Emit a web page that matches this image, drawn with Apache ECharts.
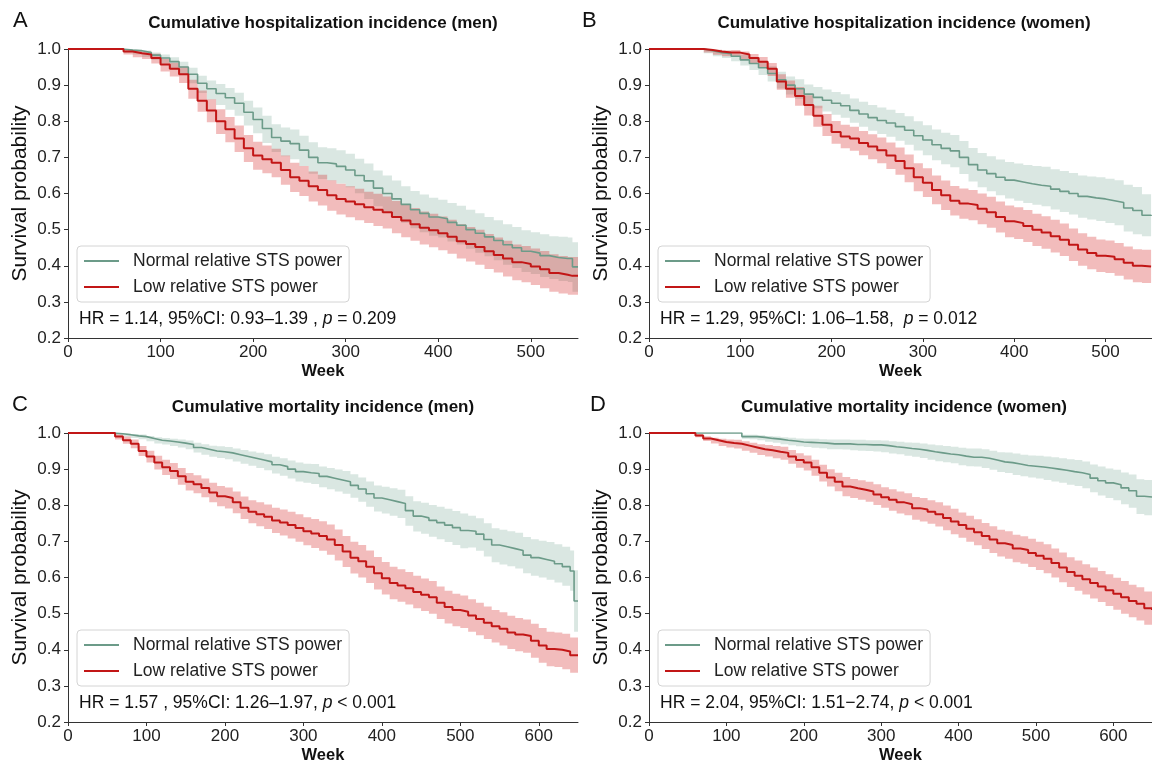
<!DOCTYPE html>
<html>
<head>
<meta charset="utf-8">
<title>Cumulative incidence by relative STS power</title>
<script src="https://cdn.jsdelivr.net/npm/echarts@6/dist/echarts.min.js"></script>
<style>
html, body { margin: 0; padding: 0; background: #fff; }
#chart { width: 1152px; height: 765px; }
</style>
</head>
<body>
<div id="chart"></div>
<script>
// tick labels
var xTicksHosp = [0, 100, 200, 300, 400, 500];
var xTicksMort = [0, 100, 200, 300, 400, 500, 600];
var yTicks = [0.2, 0.3, 0.4, 0.5, 0.6, 0.7, 0.8, 0.9, 1.0];

// A - hospitalization, men
var aWeeks = [0, 50,
  60, 70, 80, 90, 100,
  110, 120, 130, 140, 150, 160, 170, 180, 190, 200,
  210, 220, 230, 240, 250, 260, 270, 280, 290, 300,
  310, 320, 330, 340, 350, 360, 370, 380, 390, 400,
  410, 420, 430, 440, 450, 460, 470, 480, 490, 500,
  510, 520, 530, 540,
  545, 551];
var aNormal = [1, 1,
  0.997, 0.995, 0.99, 0.983, 0.975,
  0.965, 0.95, 0.93, 0.905, 0.89, 0.877, 0.865, 0.85, 0.825, 0.805,
  0.78, 0.755, 0.745, 0.738, 0.72, 0.7, 0.685, 0.682, 0.675, 0.665,
  0.65, 0.635, 0.615, 0.6, 0.585, 0.57, 0.555, 0.545, 0.535, 0.53,
  0.52, 0.512, 0.5, 0.49, 0.48, 0.47, 0.458, 0.45, 0.44, 0.435,
  0.428, 0.423, 0.42, 0.42,
  0.397, 0.397];
var aNormalLo = [1, 1,
  0.99, 0.985, 0.978, 0.97, 0.96,
  0.947, 0.93, 0.905, 0.878, 0.86, 0.845, 0.832, 0.815, 0.788, 0.767,
  0.74, 0.715, 0.703, 0.695, 0.676, 0.655, 0.64, 0.636, 0.628, 0.617,
  0.601, 0.585, 0.565, 0.55, 0.535, 0.519, 0.504, 0.493, 0.483, 0.478,
  0.467, 0.459, 0.447, 0.436, 0.426, 0.415, 0.403, 0.394, 0.383, 0.377,
  0.369, 0.363, 0.358, 0.355,
  0.328, 0.328];
var aNormalHi = [1, 1,
  1, 0.999, 0.996, 0.99, 0.985,
  0.977, 0.965, 0.948, 0.926, 0.913, 0.903, 0.892, 0.879, 0.857, 0.838,
  0.815, 0.792, 0.783, 0.777, 0.76, 0.742, 0.728, 0.725, 0.72, 0.71,
  0.696, 0.683, 0.664, 0.65, 0.636, 0.62, 0.607, 0.597, 0.588, 0.583,
  0.574, 0.566, 0.555, 0.545, 0.535, 0.526, 0.515, 0.507, 0.498, 0.493,
  0.487, 0.482, 0.48, 0.478,
  0.465, 0.465];
var aLow = [1, 1,
  0.993, 0.988, 0.985, 0.975, 0.957,
  0.945, 0.93, 0.89, 0.857, 0.83, 0.8, 0.778, 0.752, 0.725, 0.705,
  0.695, 0.685, 0.665, 0.645, 0.635, 0.62, 0.61, 0.595, 0.585, 0.578,
  0.57, 0.562, 0.555, 0.548, 0.535, 0.525, 0.515, 0.505, 0.498, 0.49,
  0.48, 0.468, 0.46, 0.452, 0.44, 0.43, 0.42, 0.41, 0.405, 0.398,
  0.39, 0.38, 0.375, 0.372,
  0.372, 0.372];
var aLowLo = [1, 1,
  0.985, 0.977, 0.972, 0.96, 0.938,
  0.924, 0.906, 0.862, 0.826, 0.797, 0.765, 0.742, 0.715, 0.687, 0.666,
  0.656, 0.645, 0.624, 0.604, 0.593, 0.578, 0.567, 0.552, 0.542, 0.534,
  0.526, 0.518, 0.51, 0.503, 0.49, 0.479, 0.469, 0.459, 0.451, 0.443,
  0.433, 0.42, 0.412, 0.403, 0.391, 0.381, 0.37, 0.36, 0.354, 0.347,
  0.338, 0.328, 0.323, 0.32,
  0.32, 0.32];
var aLowHi = [1, 1,
  0.998, 0.995, 0.993, 0.987, 0.972,
  0.962, 0.951, 0.915, 0.885, 0.861, 0.833, 0.812, 0.788, 0.762, 0.743,
  0.733, 0.724, 0.705, 0.685, 0.676, 0.661, 0.652, 0.637, 0.627, 0.62,
  0.613, 0.605, 0.599, 0.592, 0.579, 0.57, 0.56, 0.55, 0.544, 0.536,
  0.527, 0.515, 0.507, 0.5, 0.488, 0.478, 0.469, 0.459, 0.455, 0.448,
  0.441, 0.432, 0.427, 0.424,
  0.424, 0.424];

// B - hospitalization, women
var bWeeks = [0, 50,
  60, 70, 80, 90, 100,
  110, 120, 130, 140, 150, 160, 170, 180, 190, 200,
  210, 220, 230, 240, 250, 260, 270, 280, 290, 300,
  310, 320, 330, 340, 350, 360, 370, 380, 390, 400,
  410, 420, 430, 440, 450, 460, 470, 480, 490, 500,
  510, 520, 530, 540, 550];
var bNormal = [1, 1,
  0.995, 0.99, 0.987, 0.98, 0.97,
  0.96, 0.948, 0.932, 0.915, 0.9, 0.89, 0.875, 0.866, 0.858, 0.85,
  0.843, 0.83, 0.82, 0.81, 0.802, 0.795, 0.785, 0.775, 0.76, 0.748,
  0.735, 0.725, 0.718, 0.7, 0.68, 0.665, 0.655, 0.645, 0.637, 0.632,
  0.627, 0.623, 0.62, 0.612, 0.606, 0.6, 0.592, 0.588, 0.585, 0.58,
  0.575, 0.56, 0.553, 0.54, 0.538];
var bNormalLo = [1, 1,
  0.988, 0.98, 0.975, 0.966, 0.954,
  0.942, 0.928, 0.91, 0.891, 0.874, 0.862, 0.846, 0.836, 0.827, 0.818,
  0.81, 0.796, 0.785, 0.774, 0.765, 0.757, 0.746, 0.735, 0.719, 0.706,
  0.692, 0.681, 0.673, 0.654, 0.633, 0.617, 0.606, 0.595, 0.586, 0.58,
  0.574, 0.569, 0.565, 0.556, 0.549, 0.542, 0.533, 0.528, 0.524, 0.518,
  0.512, 0.495, 0.487, 0.482, 0.48];
var bNormalHi = [1, 1,
  0.999, 0.997, 0.995, 0.991, 0.984,
  0.976, 0.966, 0.952, 0.937, 0.924, 0.916, 0.902, 0.895, 0.888, 0.881,
  0.875, 0.863, 0.854, 0.845, 0.838, 0.832, 0.823, 0.814, 0.8, 0.789,
  0.777, 0.768, 0.762, 0.745, 0.726, 0.712, 0.703, 0.694, 0.687, 0.683,
  0.679, 0.676, 0.674, 0.667, 0.662, 0.657, 0.65, 0.647, 0.645, 0.641,
  0.637, 0.624, 0.618, 0.598, 0.596];
var bLow = [1, 1,
  0.997, 0.993, 0.99, 0.99, 0.985,
  0.975, 0.965, 0.945, 0.91, 0.89, 0.87, 0.845, 0.815, 0.79, 0.77,
  0.758, 0.752, 0.74, 0.73, 0.72, 0.705, 0.69, 0.67, 0.645, 0.63,
  0.61, 0.595, 0.58, 0.572, 0.568, 0.558, 0.548, 0.535, 0.523, 0.518,
  0.51, 0.5, 0.492, 0.482, 0.472, 0.458, 0.445, 0.435, 0.428, 0.425,
  0.418, 0.408, 0.4, 0.398, 0.398];
var bLowLo = [1, 1,
  0.99, 0.984, 0.98, 0.979, 0.972,
  0.96, 0.948, 0.925, 0.887, 0.865, 0.843, 0.816, 0.785, 0.759, 0.738,
  0.725, 0.718, 0.706, 0.695, 0.684, 0.668, 0.652, 0.631, 0.606, 0.59,
  0.57, 0.554, 0.539, 0.53, 0.526, 0.515, 0.505, 0.492, 0.479, 0.474,
  0.466, 0.455, 0.447, 0.437, 0.427, 0.413, 0.4, 0.39, 0.383, 0.38,
  0.372, 0.362, 0.354, 0.352, 0.352];
var bLowHi = [1, 1,
  1, 0.998, 0.996, 0.997, 0.993,
  0.986, 0.978, 0.961, 0.93, 0.913, 0.895, 0.872, 0.843, 0.82, 0.801,
  0.79, 0.785, 0.773, 0.764, 0.755, 0.741, 0.727, 0.708, 0.684, 0.67,
  0.65, 0.636, 0.621, 0.614, 0.61, 0.6, 0.591, 0.578, 0.567, 0.562,
  0.554, 0.544, 0.537, 0.527, 0.517, 0.503, 0.49, 0.48, 0.473, 0.47,
  0.463, 0.453, 0.446, 0.444, 0.444];

// C - mortality, men
var cWeeks = [0, 50,
  60, 70, 80, 90, 100,
  110, 120, 130, 140, 150, 160, 170, 180, 190, 200,
  210, 220, 230, 240, 250, 260, 270, 280, 290, 300,
  310, 320, 330, 340, 350, 360, 370, 380, 390, 400,
  410, 420, 430, 440, 450, 460, 470, 480, 490, 500,
  510, 520, 530, 540, 550, 560, 570, 580, 590, 600,
  610, 620, 630, 640,
  645, 650];
var cNormal = [1, 1,
  0.998, 0.995, 0.992, 0.99, 0.985,
  0.98, 0.978, 0.975, 0.972, 0.968, 0.96, 0.955, 0.95, 0.948, 0.945,
  0.94, 0.935, 0.93, 0.925, 0.92, 0.912, 0.907, 0.9, 0.893, 0.89,
  0.888, 0.88, 0.875, 0.87, 0.865, 0.855, 0.845, 0.832, 0.82, 0.815,
  0.81, 0.805, 0.785, 0.77, 0.765, 0.758, 0.752, 0.745, 0.738, 0.73,
  0.728, 0.72, 0.705, 0.69, 0.685, 0.68, 0.675, 0.662, 0.655, 0.65,
  0.645, 0.638, 0.63, 0.618,
  0.535, 0.535];
var cNormalLo = [1, 1,
  0.994, 0.99, 0.986, 0.983, 0.977,
  0.971, 0.968, 0.964, 0.96, 0.955, 0.946, 0.94, 0.934, 0.931, 0.927,
  0.921, 0.915, 0.909, 0.903, 0.897, 0.888, 0.882, 0.874, 0.866, 0.862,
  0.859, 0.85, 0.844, 0.838, 0.832, 0.821, 0.81, 0.796, 0.783, 0.777,
  0.771, 0.765, 0.743, 0.727, 0.721, 0.713, 0.706, 0.698, 0.69, 0.681,
  0.683, 0.674, 0.658, 0.642, 0.636, 0.631, 0.625, 0.612, 0.605, 0.6,
  0.594, 0.586, 0.577, 0.563,
  0.45, 0.45];
var cNormalHi = [1, 1,
  1, 0.999, 0.997, 0.996, 0.992,
  0.988, 0.986, 0.984, 0.982, 0.979, 0.973, 0.969, 0.965, 0.963, 0.961,
  0.957, 0.953, 0.949, 0.945, 0.941, 0.934, 0.93, 0.924, 0.918, 0.915,
  0.914, 0.907, 0.903, 0.899, 0.895, 0.886, 0.877, 0.866, 0.855, 0.851,
  0.847, 0.843, 0.825, 0.811, 0.807, 0.801, 0.796, 0.79, 0.784, 0.777,
  0.771, 0.764, 0.75, 0.736, 0.732, 0.728, 0.724, 0.712, 0.706, 0.702,
  0.698, 0.692, 0.685, 0.675,
  0.62, 0.62];
var cLow = [1, 1,
  0.99, 0.98, 0.97, 0.95, 0.935,
  0.918, 0.905, 0.895, 0.88, 0.865, 0.858, 0.848, 0.835, 0.825, 0.82,
  0.808, 0.793, 0.782, 0.775, 0.768, 0.758, 0.752, 0.745, 0.737, 0.728,
  0.722, 0.715, 0.705, 0.69, 0.672, 0.655, 0.645, 0.63, 0.612, 0.598,
  0.585, 0.578, 0.57, 0.56, 0.552, 0.545, 0.53, 0.518, 0.51, 0.505,
  0.495, 0.485, 0.475, 0.465, 0.458, 0.448, 0.442, 0.438, 0.425, 0.412,
  0.402, 0.4, 0.395, 0.385,
  0.385, 0.385];
var cLowLo = [1, 1,
  0.982, 0.97, 0.958, 0.936, 0.918,
  0.899, 0.884, 0.873, 0.857, 0.841, 0.833, 0.822, 0.808, 0.797, 0.791,
  0.778, 0.762, 0.75, 0.742, 0.734, 0.723, 0.716, 0.708, 0.699, 0.689,
  0.682, 0.674, 0.663, 0.647, 0.629, 0.611, 0.6, 0.585, 0.567, 0.553,
  0.54, 0.533, 0.525, 0.515, 0.507, 0.5, 0.485, 0.473, 0.465, 0.46,
  0.45, 0.44, 0.43, 0.42, 0.412, 0.402, 0.396, 0.392, 0.378, 0.364,
  0.354, 0.352, 0.346, 0.336,
  0.336, 0.336];
var cLowHi = [1, 1,
  0.996, 0.99, 0.982, 0.964, 0.951,
  0.937, 0.926, 0.917, 0.903, 0.889, 0.883, 0.874, 0.862, 0.853, 0.849,
  0.838, 0.824, 0.814, 0.808, 0.802, 0.793, 0.788, 0.782, 0.775, 0.767,
  0.762, 0.756, 0.747, 0.733, 0.715, 0.699, 0.69, 0.675, 0.657, 0.643,
  0.63, 0.623, 0.615, 0.605, 0.597, 0.59, 0.575, 0.563, 0.555, 0.55,
  0.54, 0.53, 0.52, 0.51, 0.504, 0.494, 0.488, 0.484, 0.472, 0.46,
  0.45, 0.448, 0.444, 0.434,
  0.434, 0.434];

// D - mortality, women
var dWeeks = [0, 50,
  60, 70, 80, 90, 100,
  110, 120, 130, 140, 150, 160, 170, 180, 190, 200,
  210, 220, 230, 240, 250, 260, 270, 280, 290, 300,
  310, 320, 330, 340, 350, 360, 370, 380, 390, 400,
  410, 420, 430, 440, 450, 460, 470, 480, 490, 500,
  510, 520, 530, 540, 550, 560, 570, 580, 590, 600,
  610, 620, 630, 640,
  650];
var dNormal = [1, 1,
  1, 1, 1, 1, 1,
  1, 0.99, 0.99, 0.988, 0.985, 0.983, 0.98, 0.978, 0.975, 0.974,
  0.973, 0.972, 0.97, 0.97, 0.97, 0.968, 0.968, 0.967, 0.967, 0.965,
  0.962, 0.96, 0.957, 0.955, 0.952, 0.948, 0.945, 0.942, 0.94, 0.936,
  0.933, 0.933, 0.93, 0.925, 0.92, 0.918, 0.914, 0.91, 0.908, 0.906,
  0.903, 0.9, 0.897, 0.893, 0.89, 0.885, 0.875, 0.868, 0.862, 0.857,
  0.848, 0.84, 0.825, 0.823,
  0.823];
var dNormalLo = [1, 1,
  1, 1, 1, 1, 1,
  1, 0.984, 0.983, 0.98, 0.976, 0.973, 0.969, 0.966, 0.963, 0.961,
  0.959, 0.958, 0.955, 0.955, 0.954, 0.952, 0.951, 0.95, 0.949, 0.947,
  0.943, 0.941, 0.937, 0.934, 0.931, 0.926, 0.922, 0.919, 0.916, 0.911,
  0.908, 0.907, 0.903, 0.898, 0.892, 0.889, 0.884, 0.88, 0.877, 0.874,
  0.87, 0.866, 0.862, 0.857, 0.853, 0.847, 0.836, 0.827, 0.82, 0.814,
  0.803, 0.793, 0.776, 0.772,
  0.772];
var dNormalHi = [1, 1,
  1, 1, 1, 1, 1,
  1, 0.995, 0.995, 0.994, 0.992, 0.99, 0.988, 0.987, 0.985, 0.984,
  0.984, 0.983, 0.982, 0.982, 0.982, 0.981, 0.981, 0.98, 0.98, 0.979,
  0.977, 0.976, 0.974, 0.973, 0.971, 0.968, 0.966, 0.964, 0.962, 0.959,
  0.957, 0.957, 0.955, 0.951, 0.947, 0.946, 0.943, 0.94, 0.938, 0.937,
  0.935, 0.933, 0.93, 0.927, 0.925, 0.921, 0.913, 0.907, 0.902, 0.898,
  0.891, 0.885, 0.872, 0.87,
  0.87];
var dLow = [1, 1,
  0.993, 0.985, 0.98, 0.975, 0.972,
  0.97, 0.965, 0.96, 0.955, 0.952, 0.948, 0.945, 0.935, 0.925, 0.918,
  0.905, 0.89, 0.877, 0.865, 0.852, 0.847, 0.843, 0.838, 0.83, 0.822,
  0.815, 0.808, 0.803, 0.792, 0.788, 0.782, 0.775, 0.765, 0.755, 0.745,
  0.735, 0.725, 0.715, 0.705, 0.695, 0.69, 0.68, 0.676, 0.668, 0.66,
  0.652, 0.64, 0.628, 0.615, 0.605, 0.595, 0.585, 0.575, 0.565, 0.555,
  0.545, 0.535, 0.527, 0.515,
  0.51];
var dLowLo = [1, 1,
  0.988, 0.978, 0.971, 0.964, 0.96,
  0.957, 0.951, 0.945, 0.939, 0.935, 0.93, 0.926, 0.915, 0.904, 0.896,
  0.882, 0.866, 0.852, 0.839, 0.825, 0.82, 0.815, 0.81, 0.801, 0.793,
  0.785, 0.777, 0.772, 0.76, 0.755, 0.749, 0.741, 0.731, 0.72, 0.71,
  0.699, 0.689, 0.679, 0.668, 0.658, 0.652, 0.642, 0.638, 0.629, 0.621,
  0.612, 0.6, 0.587, 0.574, 0.563, 0.553, 0.542, 0.532, 0.521, 0.511,
  0.5, 0.49, 0.481, 0.469,
  0.464];
var dLowHi = [1, 1,
  0.997, 0.991, 0.987, 0.984, 0.982,
  0.981, 0.977, 0.973, 0.969, 0.967, 0.964, 0.962, 0.953, 0.944, 0.938,
  0.926, 0.912, 0.9, 0.89, 0.878, 0.873, 0.869, 0.865, 0.858, 0.85,
  0.844, 0.838, 0.833, 0.823, 0.82, 0.814, 0.808, 0.799, 0.79, 0.78,
  0.771, 0.761, 0.751, 0.742, 0.732, 0.728, 0.718, 0.714, 0.707, 0.699,
  0.692, 0.68, 0.669, 0.656, 0.647, 0.637, 0.628, 0.618, 0.609, 0.599,
  0.59, 0.58, 0.573, 0.561,
  0.556];

var FONT = '"Liberation Sans", Arial, sans-serif';
var GREEN = '#6c9b89';
var RED = '#c21616';
var NAME_NORMAL = 'Normal relative STS power';
var NAME_LOW = 'Low relative STS power';

var panels = [
  { letter: 'A', letterX: 13, title: 'Cumulative hospitalization incidence (men)', left: 68, top: 49, max: 551, ticks: xTicksHosp,
    weeks: aWeeks, normal: aNormal, normalLo: aNormalLo, normalHi: aNormalHi, low: aLow, lowLo: aLowLo, lowHi: aLowHi,
    note: ['HR = 1.14, 95%CI: 0.93\u20131.39 , ', ' = 0.209'] },
  { letter: 'B', letterX: 582, title: 'Cumulative hospitalization incidence (women)', left: 649, top: 49, max: 551, ticks: xTicksHosp,
    weeks: bWeeks, normal: bNormal, normalLo: bNormalLo, normalHi: bNormalHi, low: bLow, lowLo: bLowLo, lowHi: bLowHi,
    note: ['HR = 1.29, 95%CI: 1.06\u20131.58,  ', ' = 0.012'] },
  { letter: 'C', letterX: 12, title: 'Cumulative mortality incidence (men)', left: 68, top: 433, max: 650, ticks: xTicksMort,
    weeks: cWeeks, normal: cNormal, normalLo: cNormalLo, normalHi: cNormalHi, low: cLow, lowLo: cLowLo, lowHi: cLowHi,
    note: ['HR = 1.57 , 95%CI: 1.26\u20131.97, ', ' < 0.001'] },
  { letter: 'D', letterX: 590, title: 'Cumulative mortality incidence (women)', left: 649, top: 433, max: 650, ticks: xTicksMort,
    weeks: dWeeks, normal: dNormal, normalLo: dNormalLo, normalHi: dNormalHi, low: dLow, lowLo: dLowLo, lowHi: dLowHi,
    note: ['HR = 2.04, 95%CI: 1.51\u22122.74, ', ' < 0.001'] }
];
var GRID_W = 510, GRID_H = 289;

function pairs(xs, ys) {
  return xs.map(function (x, i) { return [x, ys[i]]; });
}

// step-shaped CI band drawn once per series through the axis scales
function bandSeries(i, weeks, lo, hi, fill) {
  return {
    type: 'custom', xAxisIndex: i, yAxisIndex: i, silent: true, z: 1, clip: true,
    data: weeks.map(function (w, k) { return [w, lo[k], hi[k]]; }),
    encode: { x: 0, y: [1, 2] },
    renderItem: function (params, api) {
      if (params.dataIndex !== 0) return null;
      var top = [], bottom = [];
      for (var k = 0; k < weeks.length; k++) {
        var x1 = k + 1 < weeks.length ? weeks[k + 1] : weeks[k];
        top.push(api.coord([weeks[k], hi[k]]), api.coord([x1, hi[k]]));
        bottom.push(api.coord([weeks[k], lo[k]]), api.coord([x1, lo[k]]));
      }
      return {
        type: 'polygon',
        shape: { points: top.concat(bottom.reverse()) },
        style: { fill: fill }
      };
    }
  };
}

var grids = [], xAxes = [], yAxes = [], series = [], legends = [], graphics = [];

panels.forEach(function (p, i) {
  grids.push({ left: p.left, top: p.top, width: GRID_W, height: GRID_H });

  xAxes.push({
    type: 'value', gridIndex: i, min: 0, max: p.max,
    name: 'Week', nameLocation: 'middle', nameGap: 25,
    nameTextStyle: { fontSize: 16.5, fontWeight: 'bold', color: '#111', fontFamily: FONT },
    axisLine: { show: true, onZero: false, lineStyle: { color: '#333', width: 1 } },
    axisTick: { show: true, length: 4, customValues: p.ticks, lineStyle: { color: '#333' } },
    axisLabel: { customValues: p.ticks, fontSize: 17, color: '#222', margin: 6, fontFamily: FONT },
    splitLine: { show: false }
  });

  yAxes.push({
    type: 'value', gridIndex: i, min: 0.2, max: 1.0,
    name: 'Survival probability', nameLocation: 'middle', nameGap: 37,
    nameTextStyle: { fontSize: 21, color: '#111', fontFamily: FONT },
    axisLine: { show: true, onZero: false, lineStyle: { color: '#333', width: 1 } },
    axisTick: { show: true, length: 4, customValues: yTicks, lineStyle: { color: '#333' } },
    axisLabel: {
      customValues: yTicks, fontSize: 17, color: '#222', margin: 7, fontFamily: FONT,
      formatter: function (v) { return v.toFixed(1); }
    },
    splitLine: { show: false }
  });

  series.push(bandSeries(i, p.weeks, p.normalLo, p.normalHi, 'rgba(108,160,140,0.25)'));
  series.push(bandSeries(i, p.weeks, p.lowLo, p.lowHi, 'rgba(214,40,40,0.31)'));

  series.push({
    name: NAME_NORMAL, type: 'line', xAxisIndex: i, yAxisIndex: i,
    step: 'end', symbol: 'none', z: 3,
    data: pairs(p.weeks, p.normal),
    lineStyle: { color: GREEN, width: 1.6 }, itemStyle: { color: GREEN }
  });
  series.push({
    name: NAME_LOW, type: 'line', xAxisIndex: i, yAxisIndex: i,
    step: 'end', symbol: 'none', z: 3,
    data: pairs(p.weeks, p.low),
    lineStyle: { color: RED, width: 2 }, itemStyle: { color: RED }
  });

  legends.push({
    data: [{ name: NAME_NORMAL, icon: 'rect' }, { name: NAME_LOW, icon: 'rect' }],
    orient: 'vertical', left: p.left + 9, top: p.top + 197,
    itemWidth: 35, itemHeight: 2, itemGap: 8,
    padding: [6, 7, 6, 7],
    backgroundColor: 'rgba(255,255,255,0.8)',
    borderColor: '#d4d4d4', borderWidth: 1, borderRadius: 4,
    selectedMode: false,
    textStyle: { fontSize: 17.5, color: '#222', fontFamily: FONT, padding: [0, 0, 0, 9] }
  });

  graphics.push({
    type: 'text', x: p.letterX, y: p.top - 28,
    style: { text: p.letter, fontSize: 22, fontFamily: FONT, fill: '#111', align: 'left', verticalAlign: 'middle' }
  });
  graphics.push({
    type: 'text', x: p.left + GRID_W / 2, y: p.top - 26,
    style: { text: p.title, fontSize: 17, fontWeight: 'bold', fontFamily: FONT, fill: '#111', align: 'center', verticalAlign: 'middle' }
  });
  graphics.push({
    type: 'text', x: p.left + 11, y: p.top + 270, z: 10,
    style: {
      text: '{n|' + p.note[0] + '}{i|p}{n|' + p.note[1] + '}',
      align: 'left', verticalAlign: 'middle',
      rich: {
        n: { fontSize: 17.5, fontFamily: FONT, fill: '#111' },
        i: { fontSize: 17.5, fontFamily: FONT, fontStyle: 'italic', fill: '#111' }
      }
    }
  });
});

var chart = echarts.init(document.getElementById('chart'), null, { renderer: 'canvas' });
chart.setOption({
  backgroundColor: '#fff',
  animation: false,
  grid: grids,
  xAxis: xAxes,
  yAxis: yAxes,
  legend: legends,
  series: series,
  graphic: graphics
});
</script>
</body>
</html>
